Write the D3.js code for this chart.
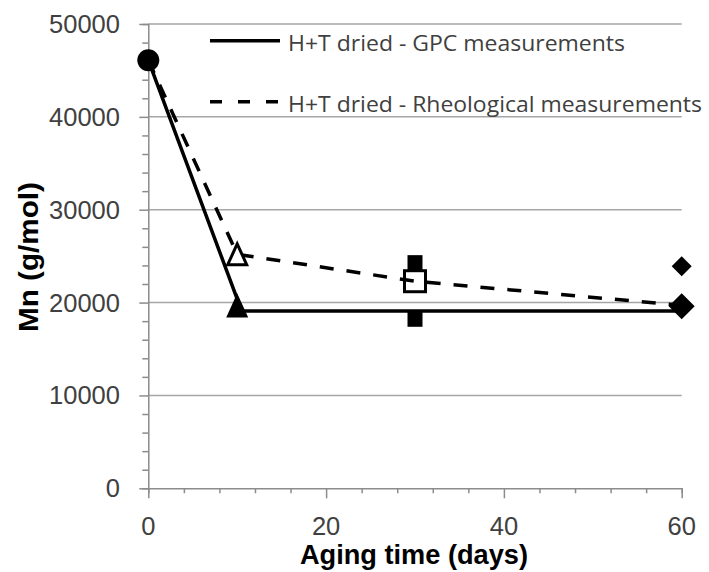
<!DOCTYPE html>
<html>
<head>
<meta charset="utf-8">
<script src="https://cdn.jsdelivr.net/npm/d3@7"></script>
<style>
  body { margin: 0; background: #fff; }
  svg { display: block; }
</style>
</head>
<body>
<svg id="chart" width="709" height="572"></svg>
<script>
// values
var yTicks = [0, 10000, 20000, 30000, 40000, 50000];
var xTicks = [0, 20, 40, 60];

var gpcLineDays = [0, 10.5, 60];
var gpcLineMn = [46100, 19100, 19100];
var rheoLineDays = [0, 10, 30, 60];
var rheoLineMn = [46100, 25200, 22300, 19700];

var circleDays = [0], circleMn = [46100];
var triFillDays = [10], triFillMn = [19700];
var triOpenDays = [10], triOpenMn = [25200];
var sqFillDays = [30, 30], sqFillMn = [24300, 18200];
var sqOpenDays = [30], sqOpenMn = [22300];
var diaDays = [60, 60], diaMn = [23900, 19600], diaSize = [20, 26];

var legendLabels = ['H+T dried - GPC measurements', 'H+T dried - Rheological measurements'];

var svg = d3.select('#chart');
var x = d3.scaleLinear().domain([0, 60]).range([148.3, 681.7]);
var y = d3.scaleLinear().domain([0, 50000]).range([488.3, 24]);
var grey = '#8c8c8c', txt = '#404040', font = 'Open Sans', axFont = 'Liberation Sans';

// gridlines
svg.append('g').selectAll('line').data(yTicks.slice(1)).join('line')
  .attr('x1', x(0)).attr('x2', x(60))
  .attr('y1', function (d) { return y(d) }).attr('y2', function (d) { return y(d) })
  .attr('stroke', '#a6a6a6').attr('stroke-width', 1.5);

// axes
var yAxis = svg.append('g').attr('transform', 'translate(' + x(0) + ',0)');
yAxis.call(d3.axisLeft(y).ticks(25).tickSize(6).tickFormat(''));
yAxis.call(function (g) {
  g.select('.domain').attr('stroke', grey).attr('stroke-width', 1.5);
  g.selectAll('.tick line').attr('stroke', grey).attr('stroke-width', 1.5)
    .attr('x2', function (d) { return d % 10000 === 0 ? -9 : -6 });
});
var xAxis = svg.append('g').attr('transform', 'translate(0,' + y(0) + ')');
xAxis.call(d3.axisBottom(x).tickValues(d3.range(0, 61, 4)).tickSize(5).tickFormat(''));
xAxis.call(function (g) {
  g.select('.domain').attr('stroke', grey).attr('stroke-width', 1.5);
  g.selectAll('.tick line').attr('stroke', grey).attr('stroke-width', 1.5)
    .attr('y2', function (d) { return d % 20 === 0 ? 10 : 5 });
});

// tick labels
svg.append('g').selectAll('text').data(yTicks).join('text')
  .attr('x', 120).attr('y', function (d) { return y(d) + 9 })
  .attr('text-anchor', 'end').attr('font-family', axFont).attr('font-size', 25.5)
  .attr('fill', txt).text(function (d) { return d });
svg.append('g').selectAll('text').data(xTicks).join('text')
  .attr('x', function (d) { return x(d) }).attr('y', 535)
  .attr('text-anchor', 'middle').attr('font-family', axFont).attr('font-size', 25.5)
  .attr('fill', txt).text(function (d) { return d });

// axis titles
svg.append('text').attr('x', 414).attr('y', 564).attr('text-anchor', 'middle')
  .attr('font-family', axFont).attr('font-weight', 'bold').attr('font-size', 27)
  .attr('textLength', 228).attr('lengthAdjust', 'spacingAndGlyphs')
  .text('Aging time (days)');
svg.append('text').attr('transform', 'translate(38,257) rotate(-90)').attr('text-anchor', 'middle')
  .attr('font-family', axFont).attr('font-weight', 'bold').attr('font-size', 27)
  .attr('textLength', 150).attr('lengthAdjust', 'spacingAndGlyphs')
  .text('Mn (g/mol)');

function pts(xs, ys) { return xs.map(function (d, i) { return [d, ys[i]] }) }
var line = d3.line().x(function (d) { return x(d[0]) }).y(function (d) { return y(d[1]) });

// filled squares, open square under the dashed line
svg.append('g').selectAll('rect').data(pts(sqFillDays, sqFillMn)).join('rect')
  .attr('x', function (d) { return x(d[0]) - 7.5 }).attr('y', function (d) { return y(d[1]) - 7.5 })
  .attr('width', 15).attr('height', 15).attr('fill', '#000');
svg.append('g').selectAll('rect').data(pts(sqOpenDays, sqOpenMn)).join('rect')
  .attr('x', function (d) { return x(d[0]) - 10.5 }).attr('y', function (d) { return y(d[1]) - 10.5 })
  .attr('width', 21).attr('height', 21).attr('fill', '#fff').attr('stroke', '#000').attr('stroke-width', 3);

svg.append('path').datum(pts(gpcLineDays, gpcLineMn)).attr('d', line)
  .attr('fill', 'none').attr('stroke', '#000').attr('stroke-width', 3.5);
svg.append('path').datum(pts(rheoLineDays, rheoLineMn)).attr('d', line)
  .attr('fill', 'none').attr('stroke', '#000').attr('stroke-width', 3.5).attr('stroke-dasharray', '14,13');

// triangles
function tri(d, s) {
  var cx = x(d[0]), cy = y(d[1]), h = s * 1.1;
  return 'M' + cx + ',' + (cy - h / 2) + 'L' + (cx + s / 2) + ',' + (cy + h / 2) + 'L' + (cx - s / 2) + ',' + (cy + h / 2) + 'Z';
}
svg.append('g').selectAll('path').data(pts(triFillDays, triFillMn)).join('path')
  .attr('d', function (d) { return tri(d, 22) }).attr('fill', '#000');
svg.append('g').selectAll('path').data(pts(triOpenDays, triOpenMn)).join('path')
  .attr('d', function (d) { return tri(d, 19) }).attr('fill', '#fff').attr('stroke', '#000').attr('stroke-width', 3)
  .attr('stroke-linejoin', 'miter');

// circle and diamonds
svg.append('g').selectAll('circle').data(pts(circleDays, circleMn)).join('circle')
  .attr('cx', function (d) { return x(d[0]) }).attr('cy', function (d) { return y(d[1]) })
  .attr('r', 11).attr('fill', '#000');
svg.append('g').selectAll('path').data(pts(diaDays, diaMn)).join('path')
  .attr('d', function (d, i) {
    var cx = x(d[0]), cy = y(d[1]), r = diaSize[i] / 2;
    return 'M' + cx + ',' + (cy - r) + 'L' + (cx + r) + ',' + cy + 'L' + cx + ',' + (cy + r) + 'L' + (cx - r) + ',' + cy + 'Z';
  }).attr('fill', '#000');

// legend
var legY = [40.7, 101.7], legW = [337, 414];
var leg = svg.append('g');
leg.selectAll('line').data(legendLabels).join('line')
  .attr('x1', 210).attr('x2', 280)
  .attr('y1', function (d, i) { return legY[i] }).attr('y2', function (d, i) { return legY[i] })
  .attr('stroke', '#000').attr('stroke-width', 3.5)
  .attr('stroke-dasharray', function (d, i) { return i ? '12,16' : null });
leg.selectAll('text').data(legendLabels).join('text')
  .attr('x', 288).attr('y', function (d, i) { return legY[i] + 10.5 })
  .attr('font-family', font).attr('font-size', 21).attr('fill', txt)
  .attr('textLength', function (d, i) { return legW[i] }).attr('lengthAdjust', 'spacingAndGlyphs')
  .text(function (d) { return d });
</script>
</body>
</html>
